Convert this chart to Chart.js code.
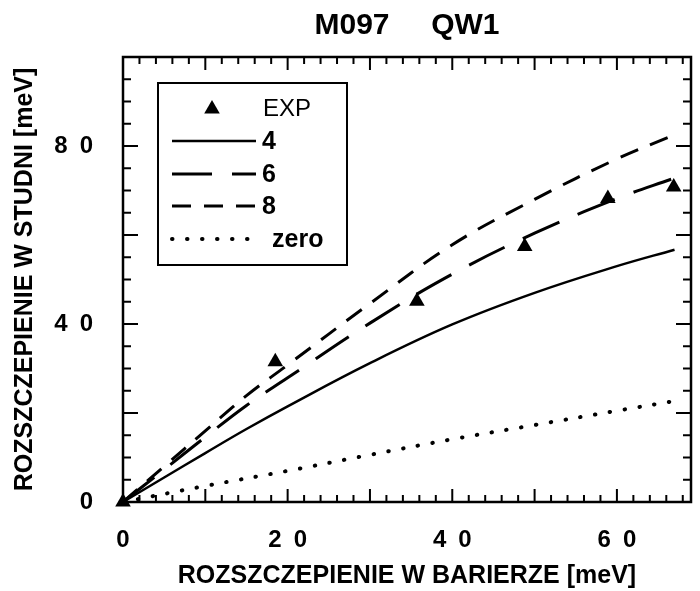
<!DOCTYPE html>
<html>
<head>
<meta charset="utf-8">
<script src="https://cdn.jsdelivr.net/npm/chart.js@4/dist/chart.umd.min.js"></script>
<style>
  html, body { margin: 0; padding: 0; background: #fff; }
  #wrap { width: 700px; height: 591px; }
</style>
</head>
<body>
<div id="wrap"><canvas id="chart" width="700" height="591"></canvas></div>
<script>
// values (meV)
const xCurve = [0, 5, 10, 15, 20, 30, 40, 50, 60, 67];
const curve4 = [0, 5.5, 11.0, 16.4, 21.5, 31.2, 39.9, 47.0, 53.0, 56.7];
const curve6 = [0, 7.3, 14.6, 21.7, 27.9, 40.2, 51.2, 60.4, 68.2, 72.8];
const curve8 = [0, 8.0, 16.0, 23.9, 30.8, 44.6, 57.8, 68.0, 77.1, 82.5];
const xZero = [0, 10, 20, 30, 40, 50, 60, 68];
const curveZero = [0, 3.6, 7.0, 10.6, 14.1, 17.3, 20.5, 23.0];
const expX = [0, 18.5, 35.7, 48.8, 58.9, 66.9];
const expY = [0, 31.5, 45.1, 57.4, 68.2, 70.8];
const xLabelTicks = [0, 20, 40, 60];
const yLabelTicks = [0, 40, 80];

const FONT = "'Liberation Sans', Arial, Helvetica, sans-serif";
const pts = (xs, ys) => xs.map((x, i) => ({ x, y: ys[i] }));
const spaced = (v) => String(v).split('').join('\u2002');

const frame = {
  id: 'frame',
  beforeDatasetsDraw(chart) {
    const { ctx, chartArea: a, scales: { x, y } } = chart;
    ctx.save();
    ctx.strokeStyle = '#000';
    ctx.lineWidth = 2.5;
    ctx.strokeRect(a.left, a.top, a.right - a.left, a.bottom - a.top);
    ctx.lineWidth = 2;
    ctx.beginPath();
    for (let v = 2; v < x.max; v += 2) {
      const px = x.getPixelForValue(v);
      const len = v % 10 === 0 ? 13 : 7;
      ctx.moveTo(px, a.bottom); ctx.lineTo(px, a.bottom - len);
      ctx.moveTo(px, a.top); ctx.lineTo(px, a.top + len);
    }
    for (let v = 5; v < y.max; v += 5) {
      const py = y.getPixelForValue(v);
      const len = v % 20 === 0 ? 15 : 8;
      ctx.moveTo(a.left, py); ctx.lineTo(a.left + len, py);
      ctx.moveTo(a.right, py); ctx.lineTo(a.right - len, py);
    }
    ctx.stroke();
    ctx.restore();
  }
};

const boxLegend = {
  id: 'boxLegend',
  afterDraw(chart) {
    const { ctx } = chart;
    const ds = chart.data.datasets;
    ctx.save();
    ctx.strokeStyle = '#000';
    ctx.lineWidth = 2;
    ctx.strokeRect(158, 83, 189, 182);
    ctx.fillStyle = '#000';
    ctx.textBaseline = 'middle';
    // EXP marker
    const m = ds[0];
    Chart.helpers.drawPoint(ctx, { pointStyle: m.pointStyle, radius: m.pointRadius, borderWidth: 0 }, 212, 109);
    ctx.font = '24px ' + FONT;
    ctx.fillText(m.label, 263, 109);
    const rows = [[1, 141, 262], [2, 174, 262], [3, 206, 262], [4, 239, 272]];
    rows.forEach(([i, yy, tx]) => {
      const d = ds[i];
      ctx.strokeStyle = d.borderColor;
      ctx.lineWidth = d.borderWidth;
      ctx.setLineDash(d.borderDash || []);
      ctx.lineCap = d.borderCapStyle || 'butt';
      ctx.beginPath();
      ctx.moveTo(172, yy); ctx.lineTo(256, yy);
      ctx.stroke();
      ctx.setLineDash([]);
      ctx.font = 'bold 25px ' + FONT;
      ctx.fillText(d.label, tx, yy + 1);
    });
    ctx.restore();
  }
};

const lineSet = (label, xs, ys, dash, width, cap) => ({
  label,
  data: pts(xs, ys),
  borderColor: '#000',
  backgroundColor: '#000',
  borderWidth: width,
  borderDash: dash,
  borderCapStyle: cap || 'butt',
  pointRadius: 0,
  showLine: true,
  tension: 0.4,
  fill: false,
  clip: false
});

new Chart(document.getElementById('chart'), {
  type: 'scatter',
  data: {
    datasets: [
      {
        label: 'EXP',
        data: pts(expX, expY),
        pointStyle: 'triangle',
        pointRadius: 9,
        pointBackgroundColor: '#000',
        pointBorderWidth: 0,
        showLine: false,
        clip: false
      },
      lineSet('4', xCurve, curve4, [], 2.5),
      lineSet('6', xCurve, curve6, [40, 20], 3),
      lineSet('8', xCurve, curve8, [19, 13], 3),
      lineSet('zero', xZero, curveZero, [0.5, 14.5], 4, 'round')
    ]
  },
  options: {
    responsive: false,
    animation: false,
    layout: { padding: { top: 0, right: 3, left: 0, bottom: 0 } },
    plugins: {
      legend: { display: false },
      tooltip: { enabled: false },
      title: {
        display: true,
        text: 'M097     QW1',
        fullSize: false,
        color: '#000',
        font: { family: FONT, size: 30, weight: 'bold' },
        padding: { top: 8, bottom: 13 }
      }
    },
    scales: {
      x: {
        type: 'linear',
        min: 0,
        max: 69,
        afterFit: (s) => { s.height = 89; },
        afterBuildTicks: (s) => { s.ticks = xLabelTicks.map((value) => ({ value })); },
        grid: { display: false },
        border: { display: false },
        ticks: {
          color: '#000',
          padding: 16,
          maxRotation: 0,
          font: { family: FONT, size: 24, weight: 'bold' },
          callback: (v) => spaced(v)
        },
        title: {
          display: true,
          text: 'ROZSZCZEPIENIE W BARIERZE [meV]',
          color: '#000',
          font: { family: FONT, size: 25, weight: 'bold' },
          padding: { top: 0, bottom: 0 }
        }
      },
      y: {
        type: 'linear',
        min: 0,
        max: 100,
        afterFit: (s) => { s.width = 123; },
        afterBuildTicks: (s) => { s.ticks = yLabelTicks.map((value) => ({ value })); },
        grid: { display: false },
        border: { display: false },
        ticks: {
          color: '#000',
          padding: 22,
          font: { family: FONT, size: 24, weight: 'bold' },
          callback: (v) => spaced(v)
        },
        title: {
          display: true,
          text: 'ROZSZCZEPIENIE W STUDNI [meV]',
          color: '#000',
          font: { family: FONT, size: 25, weight: 'bold' },
          padding: { top: 10, bottom: 0 }
        }
      }
    }
  },
  plugins: [frame, boxLegend]
});
</script>
</body>
</html>
